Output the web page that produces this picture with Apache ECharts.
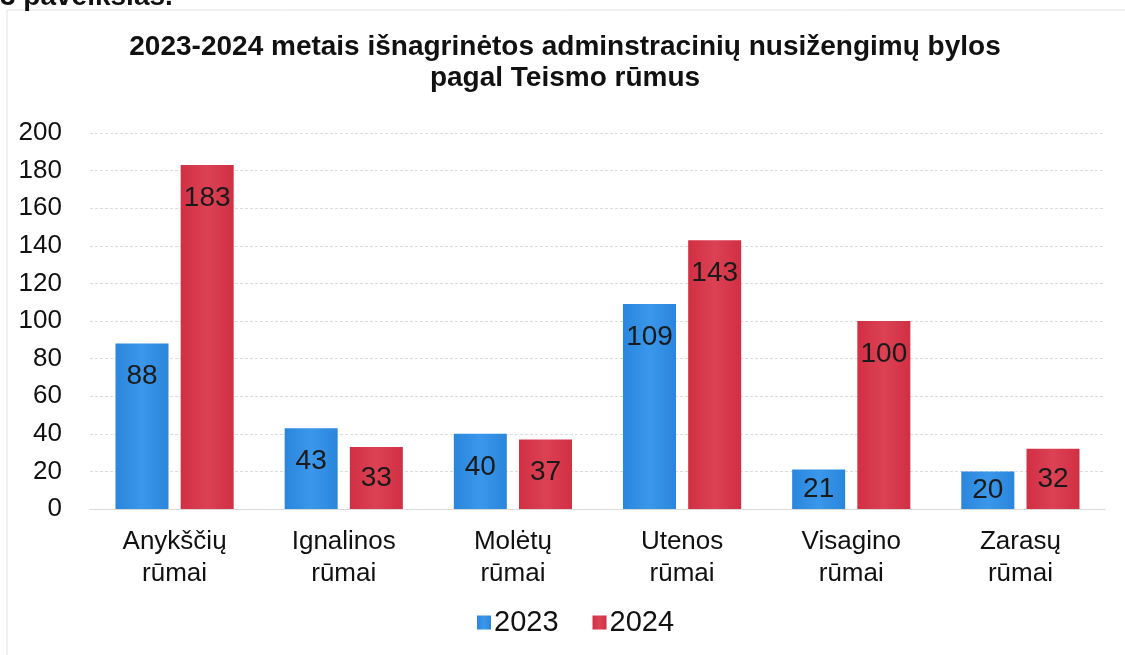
<!DOCTYPE html>
<html>
<head>
<meta charset="utf-8">
<script src="https://cdn.jsdelivr.net/npm/echarts@6/dist/echarts.min.js"></script>
<style>
  html, body { margin: 0; padding: 0; background: #fff; }
  #chart { width: 1125px; height: 655px; }
</style>
</head>
<body>
<div id="chart"></div>
<script>
const categories = ['Anykščių\nrūmai', 'Ignalinos\nrūmai', 'Molėtų\nrūmai', 'Utenos\nrūmai', 'Visagino\nrūmai', 'Zarasų\nrūmai'];
const values2023 = [88, 43, 40, 109, 21, 20];
const values2024 = [183, 33, 37, 143, 100, 32];
const yTicks = { min: 0, max: 200, interval: 20 };

const chart = echarts.init(document.getElementById('chart'));

const font = 'Liberation Sans, Arial, sans-serif';
const labelSize = 28;

function grad(edge, mid) {
  return new echarts.graphic.LinearGradient(0, 0, 1, 0, [
    { offset: 0, color: edge },
    { offset: 0.5, color: mid },
    { offset: 1, color: edge }
  ]);
}

const label = {
  show: true,
  position: 'insideTop',
  distance: 19,
  color: '#1a1a1a',
  fontSize: labelSize,
  fontFamily: font
};

chart.setOption({
  backgroundColor: '#fff',
  animation: false,
  title: {
    text: '2023-2024 metais išnagrinėtos adminstracinių nusižengimų bylos\npagal Teismo rūmus',
    left: 560,
    textAlign: 'center',
    top: 27,
    textStyle: {
      fontFamily: font,
      fontSize: 28,
      fontWeight: 'bold',
      color: '#111',
      lineHeight: 31
    }
  },
  graphic: [
    {
      type: 'rect',
      shape: { x: 7, y: 10, width: 1125, height: 700 },
      style: { fill: 'none', stroke: '#e3e3e3', lineWidth: 1 }
    },
    {
      type: 'text',
      left: 0,
      top: -17,
      style: { text: '3 paveikslas.', font: 'bold 28px ' + font, fill: '#111' }
    }
  ],
  legend: {
    bottom: 13,
    left: 472,
    itemWidth: 14,
    itemHeight: 14,
    itemGap: 34,
    icon: 'rect',
    textStyle: { fontSize: 29, fontFamily: font, color: '#111', padding: [0, 0, 0, -2] },
    data: ['2023', '2024']
  },
  grid: {
    left: 90,
    right: 20,
    top: 133,
    bottom: 146
  },
  xAxis: {
    type: 'category',
    data: categories,
    axisTick: { show: false },
    axisLine: { lineStyle: { color: '#d9d9d9' } },
    axisLabel: {
      fontSize: 26,
      fontFamily: font,
      color: '#111',
      margin: 17,
      lineHeight: 32
    }
  },
  yAxis: {
    type: 'value',
    min: yTicks.min,
    max: yTicks.max,
    interval: yTicks.interval,
    axisLine: { show: false },
    axisTick: { show: false },
    axisLabel: { fontSize: 26, fontFamily: font, color: '#111', margin: 28 },
    splitLine: { lineStyle: { color: '#dcdcdc', type: [3, 2] } }
  },
  series: [
    {
      name: '2023',
      type: 'bar',
      data: values2023,
      barWidth: 53,
      barGap: '23%',
      itemStyle: { color: grad('#2a86dc', '#3a97ea') },
      label: label
    },
    {
      name: '2024',
      type: 'bar',
      data: values2024,
      barWidth: 53,
      itemStyle: { color: grad('#d12f44', '#dc4154') },
      label: label
    }
  ]
});

// short bars: keep the label inside the bar (centre it when it doesn't fit)
function fitLabels(values) {
  const zero = chart.convertToPixel({ yAxisIndex: 0 }, 0);
  return values.map(v => {
    const h = zero - chart.convertToPixel({ yAxisIndex: 0 }, v);
    const d = Math.min(19, Math.max(0, (h - labelSize) / 2));
    return { value: v, label: { distance: d } };
  });
}
chart.setOption({
  series: [
    { name: '2023', data: fitLabels(values2023) },
    { name: '2024', data: fitLabels(values2024) }
  ]
});
</script>
</body>
</html>
